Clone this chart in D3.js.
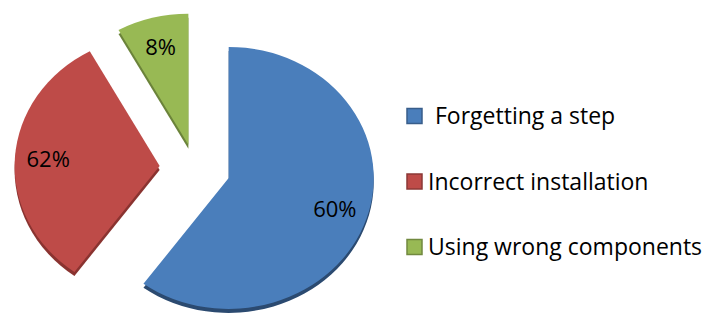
<!DOCTYPE html>
<html>
<head>
<meta charset="utf-8">
<style>
  body { margin: 0; background: #fff; }
  text { font-family: "Open Sans", sans-serif; fill: #000; }
</style>
</head>
<body>
<svg width="706" height="318"></svg>
<script src="https://d3js.org/d3.v7.min.js"></script>
<script>

// chart data
var categories = ["Forgetting a step", "Incorrect installation", "Using wrong components"],
    values = [60, 32, 8],
    labels = ["60%", "62%", "8%"];   // labels as printed on the chart

var colors = ["#4a7ebb", "#be4b48", "#98b954"],
    sideColors = ["#2b4a70", "#8a3330", "#6b833a"],
    borderColors = ["#385d8a", "#8c3836", "#71893f"];

var svg = d3.select("svg"),
    cx = 195, cy = 168,
    radius = 131,
    sx = 1.107,          // pie is tilted, so wider than tall
    depth = 4,
    explode = [32, 32, 24];

var pie = d3.pie().sort(null).value(function(d) { return d; });
var arcs = pie(values);

var arc = d3.arc().innerRadius(0).outerRadius(radius);
var labelArc = d3.arc().innerRadius(radius * 0.77).outerRadius(radius * 0.77);

function offset(d, i) {
  var a = (d.startAngle + d.endAngle) / 2;
  return [cx + explode[i] * sx * Math.sin(a), cy - explode[i] * Math.cos(a)];
}

var g = svg.append("g");

// the 3d side: a darker copy pushed down
g.selectAll(".side")
  .data(arcs)
  .enter().append("path")
    .attr("class", "side")
    .attr("d", arc)
    .attr("fill", function(d, i) { return sideColors[i]; })
    .attr("transform", function(d, i) {
      var o = offset(d, i);
      return "translate(" + o[0] + "," + (o[1] + depth) + ") scale(" + sx + ",1)";
    });

g.selectAll(".slice")
  .data(arcs)
  .enter().append("path")
    .attr("class", "slice")
    .attr("d", arc)
    .attr("fill", function(d, i) { return colors[i]; })
    .attr("transform", function(d, i) {
      var o = offset(d, i);
      return "translate(" + o[0] + "," + o[1] + ") scale(" + sx + ",1)";
    });

g.selectAll(".label")
  .data(arcs)
  .enter().append("text")
    .attr("class", "label")
    .attr("text-anchor", "middle")
    .attr("dy", "0.35em")
    .style("font-size", "22px")
    .attr("transform", function(d, i) {
      var o = offset(d, i), c = labelArc.centroid(d);
      return "translate(" + (o[0] + c[0] * sx) + "," + (o[1] + c[1]) + ")";
    })
    .text(function(d, i) { return labels[i]; });

// legend
var legend = svg.append("g").attr("transform", "translate(406,116)");

var item = legend.selectAll(".item")
  .data(categories)
  .enter().append("g")
    .attr("class", "item")
    .attr("transform", function(d, i) { return "translate(0," + i * 65.5 + ")"; });

item.append("rect")
    .attr("x", 1).attr("y", -7.5)
    .attr("width", 15).attr("height", 15)
    .attr("fill", function(d, i) { return colors[i]; })
    .attr("stroke", function(d, i) { return borderColors[i]; })
    .attr("stroke-width", 1.5);

item.append("text")
    .attr("x", function(d, i) { return i === 0 ? 29 : 22; })
    .attr("dy", "0.36em")
    .style("font-size", "23px")
    .text(function(d) { return d; });

</script>
</body>
</html>
